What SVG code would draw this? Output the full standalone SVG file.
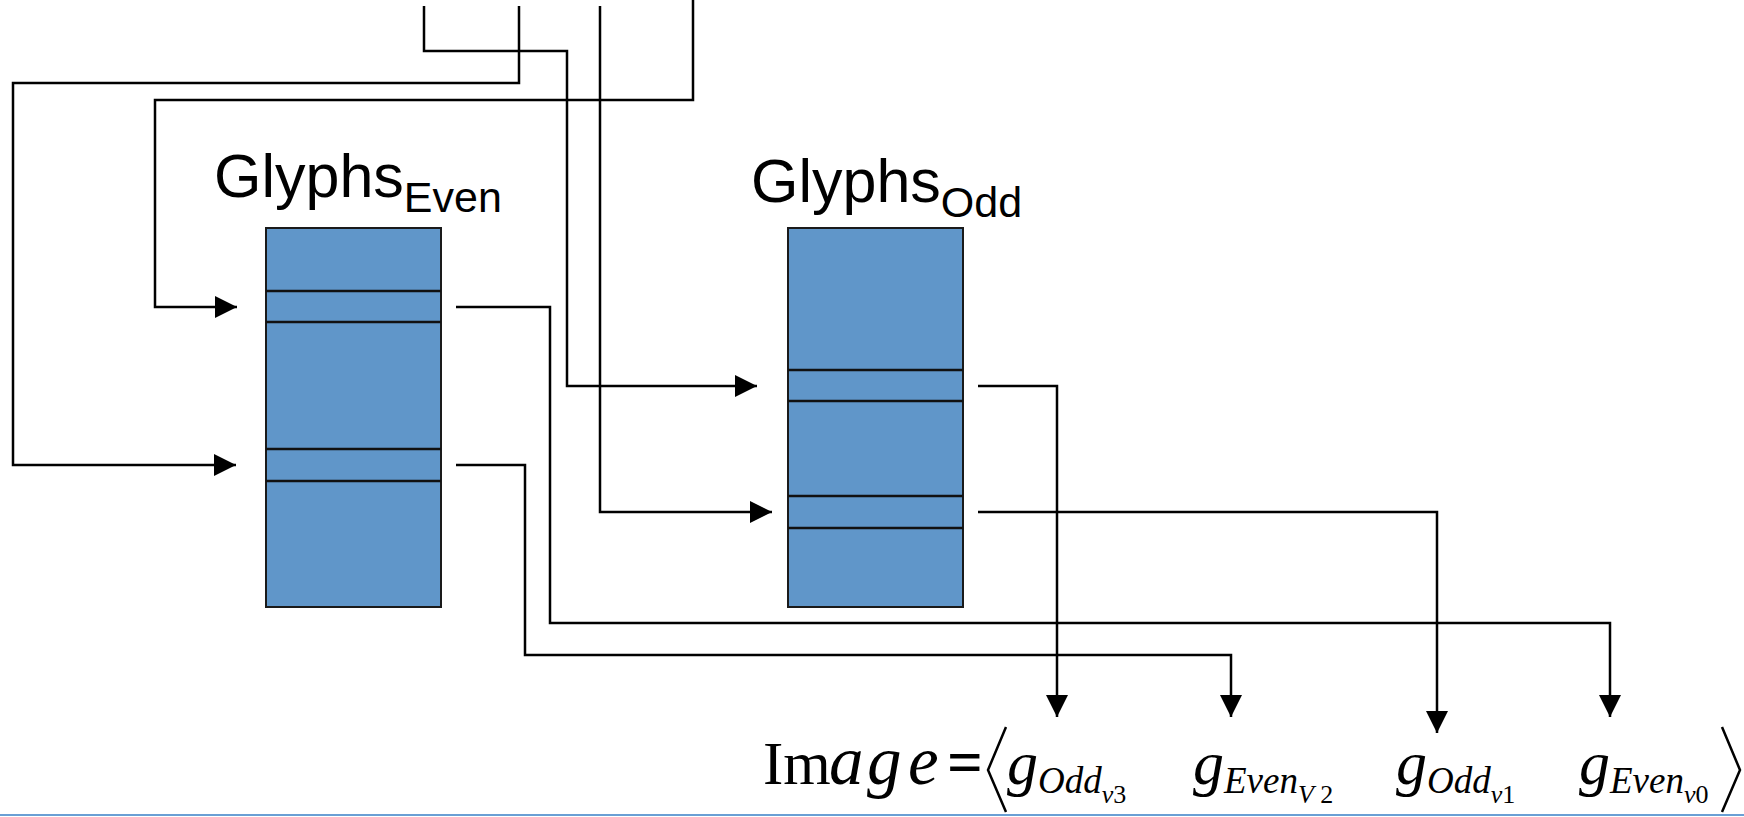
<svg xmlns="http://www.w3.org/2000/svg" width="1744" height="817" viewBox="0 0 1744 817">
  <style>
    .wire { fill: none; stroke: #000; stroke-width: 2.5; }
    .slab { fill: #6096c9; stroke: #1a1a1a; stroke-width: 2; }
    .slot { stroke: #111; stroke-width: 2.5; }
    .title { font-family: "Liberation Sans", Arial, sans-serif; fill: #000; }
    .math { font-family: "Liberation Serif", "Times New Roman", serif; fill: #000; }
    .it { font-style: italic; }
  </style>
  <defs>
    <marker id="head" viewBox="0 0 22 22" markerWidth="22" markerHeight="22" refX="22" refY="11" orient="auto" markerUnits="userSpaceOnUse">
      <path d="M0,0 L22,11 L0,22 Z" fill="#000"/>
    </marker>
  </defs>

  <rect width="1744" height="817" fill="#fff"/>

  <!-- even glyph table -->
  <g id="glyphs-even">
    <text class="title" x="214" y="197" font-size="61">Glyphs<tspan font-size="43" dy="15">Even</tspan></text>
    <rect class="slab" x="266" y="228" width="175" height="379"/>
    <line class="slot" x1="266" y1="291" x2="441" y2="291"/>
    <line class="slot" x1="266" y1="322" x2="441" y2="322"/>
    <line class="slot" x1="266" y1="449" x2="441" y2="449"/>
    <line class="slot" x1="266" y1="481" x2="441" y2="481"/>
  </g>

  <!-- odd glyph table -->
  <g id="glyphs-odd">
    <text class="title" x="751" y="202" font-size="61">Glyphs<tspan font-size="43" dy="15">Odd</tspan></text>
    <rect class="slab" x="788" y="228" width="175" height="379"/>
    <line class="slot" x1="788" y1="370" x2="963" y2="370"/>
    <line class="slot" x1="788" y1="401" x2="963" y2="401"/>
    <line class="slot" x1="788" y1="496" x2="963" y2="496"/>
    <line class="slot" x1="788" y1="528" x2="963" y2="528"/>
  </g>

  <!-- resulting image sequence -->
  <g id="image-formula">
    <text class="math" x="763" y="784" font-size="61">Im<tspan class="it" x="829" font-size="69">a</tspan><tspan class="it" x="867" font-size="69">g</tspan><tspan class="it" x="908" font-size="69">e</tspan><tspan x="947" font-size="63" font-weight="bold">=</tspan></text>
    <path d="M1006,727 L988,770 L1006,812" fill="none" stroke="#000" stroke-width="2.5"/>
    <text class="math it" x="1007" y="784" font-size="62">g<tspan font-size="37" dy="9">Odd</tspan><tspan font-size="26" dy="10">v</tspan><tspan font-size="26" font-style="normal">3</tspan></text>
    <text class="math it" x="1193" y="784" font-size="62">g<tspan font-size="37" dy="9">Even</tspan><tspan font-size="26" dy="10">V</tspan><tspan font-size="26" font-style="normal"> 2</tspan></text>
    <text class="math it" x="1396" y="784" font-size="62">g<tspan font-size="37" dy="9">Odd</tspan><tspan font-size="26" dy="10">v</tspan><tspan font-size="26" font-style="normal">1</tspan></text>
    <text class="math it" x="1579" y="784" font-size="62">g<tspan font-size="37" dy="9">Even</tspan><tspan font-size="26" dy="10">v</tspan><tspan font-size="26" font-style="normal">0</tspan></text>
    <path d="M1722,727 L1740,770 L1722,812" fill="none" stroke="#000" stroke-width="2.5"/>
  </g>

  <!-- routing wires -->
  <g id="connectors">
    <path class="wire" d="M424,6 V51 H567 V386 H757" marker-end="url(#head)"/>
    <path class="wire" d="M519,6 V83 H13 V465 H236" marker-end="url(#head)"/>
    <path class="wire" d="M600,6 V512 H772" marker-end="url(#head)"/>
    <path class="wire" d="M693,0 V100 H155 V307 H237" marker-end="url(#head)"/>
    <path class="wire" d="M456,307 H550 V623 H1610 V717" marker-end="url(#head)"/>
    <path class="wire" d="M456,465 H525 V655 H1231 V717" marker-end="url(#head)"/>
    <path class="wire" d="M978,386 H1057 V717" marker-end="url(#head)"/>
    <path class="wire" d="M978,512 H1437 V733" marker-end="url(#head)"/>
  </g>

  <!-- footer rule -->
  <line x1="0" y1="815" x2="1744" y2="815" stroke="#6a9fd4" stroke-width="2"/>
</svg>
